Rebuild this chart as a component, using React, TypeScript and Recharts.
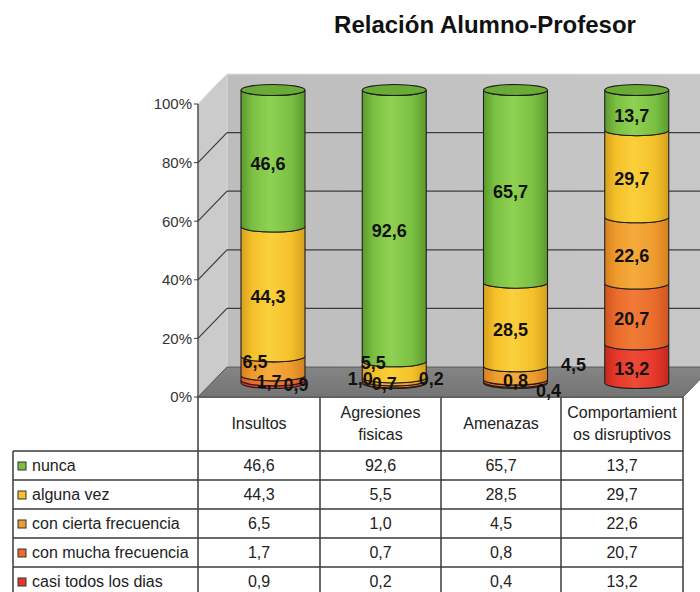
import React from "react";
import { BarChart, Bar, XAxis, YAxis, LabelList, Customized } from "recharts";
import * as RC from "recharts";

// categories and series (percent of answers)
const categories = ["Insultos", "Agresiones fisicas", "Amenazas", "Comportamientos disruptivos"];
const headerLines = [["Insultos"], ["Agresiones", "fisicas"], ["Amenazas"], ["Comportamient", "os disruptivos"]];
const nunca = [46.6, 92.6, 65.7, 13.7];
const algunaVez = [44.3, 5.5, 28.5, 29.7];
const conCiertaFrecuencia = [6.5, 1.0, 4.5, 22.6];
const conMuchaFrecuencia = [1.7, 0.7, 0.8, 20.7];
const casiTodosLosDias = [0.9, 0.2, 0.4, 13.2];
const yTicks = [0, 0.2, 0.4, 0.6, 0.8, 1];

const FONT = "'Liberation Sans', Arial, Helvetica, sans-serif";

// table order (top to bottom); the stack is drawn in reverse
const series = [
  { key: "nunca", name: "nunca", values: nunca, dark: "#5c9a2c", mid: "#7bc043", light: "#8fd152", cap: "#6aab36" },
  { key: "alguna", name: "alguna vez", values: algunaVez, dark: "#d6a01e", mid: "#f4c12a", light: "#fbd03c", cap: "#e6b325" },
  { key: "cierta", name: "con cierta frecuencia", values: conCiertaFrecuencia, dark: "#d58020", mid: "#ef9b2e", light: "#f5ab3c", cap: "#e08c26" },
  { key: "mucha", name: "con mucha frecuencia", values: conMuchaFrecuencia, dark: "#cf5620", mid: "#ea6b2b", light: "#f07b36", cap: "#dc5f25" },
  { key: "casi", name: "casi todos los dias", values: casiTodosLosDias, dark: "#c4281f", mid: "#e6382a", light: "#ee4a35", cap: "#d83025" },
];
const stackOrder = [...series].reverse();

// Excel pushed the labels of the thin slices aside; [dx, dy] per category
const LABEL_NUDGE: Record<string, number[][]> = {
  nunca: [[0, 0], [0, 0], [0, 0], [0, 0]],
  alguna: [[0, 0], [-16, -12], [0, 0], [0, 0]],
  cierta: [[-13, -9], [-29, -5], [63, -13], [0, 0]],
  mucha: [[1, -1], [-5, -3], [5, -5], [0, 0]],
  casi: [[28, -2], [42, -9], [38, 3], [0, 0]],
};

const data = categories.map((c, i) => {
  const row: Record<string, any> = { cat: c };
  series.forEach((s) => (row[s.key] = s.values[i]));
  return row;
});

const W = 700;
const H = 412;
const MARGIN = { top: 104, right: 17, bottom: 15, left: 0 };
const AXIS_W = 198;
const WALL_DX = 29;
const WALL_DY = 30;
const CYL_DX = 14;
const CYL_DY = 14;
const RY = 5.5;

const fmt = (v: number) => v.toFixed(1).replace(".", ",");

function usePlotAreaSafe() {
  const hook = (RC as any).usePlotArea;
  const area = hook ? hook() : null;
  if (area && area.width) return area;
  return { x: MARGIN.left + AXIS_W, y: MARGIN.top, width: W - MARGIN.left - AXIS_W - MARGIN.right, height: H - MARGIN.top - MARGIN.bottom };
}

function Box3D() {
  const a = usePlotAreaSafe();
  const L = a.x, T = a.y, B = a.y + a.height, R = a.x + a.width;
  const yv = (v: number) => T + a.height * (1 - v);
  return (
    <g>
      <polygon points={`${L},${T} ${L + WALL_DX},${T - WALL_DY} ${L + WALL_DX},${B - WALL_DY} ${L},${B}`} fill="#cbcbcb" stroke="#b0b0b0" />
      <rect x={L + WALL_DX} y={T - WALL_DY} width={R - L + 10} height={a.height} fill="url(#wall)" stroke="#e2e2e2" />
      <polygon points={`${L},${B} ${L + WALL_DX},${B - WALL_DY} ${R + WALL_DX},${B - WALL_DY} ${R},${B}`} fill="url(#floor)" stroke="#555" />
      <line x1={L} y1={T} x2={L + WALL_DX} y2={T - WALL_DY} stroke="#e4e4e4" />
      {yTicks.filter((v) => v > 0 && v < 1).map((v) => (
        <g key={v} stroke="#3c3c3c" strokeWidth={1.2}>
          <line x1={L} y1={yv(v)} x2={L + WALL_DX} y2={yv(v) - WALL_DY} />
          <line x1={L + WALL_DX} y1={yv(v) - WALL_DY} x2={R + WALL_DX + 20} y2={yv(v) - WALL_DY} />
        </g>
      ))}
    </g>
  );
}

const makeShape = (s: (typeof series)[number], withCap: boolean) => (p: any) => {
  const x = Number(p.x), y = Number(p.y), w = Number(p.width), h = Number(p.height);
  if (!isFinite(x) || !isFinite(y)) return <g />;
  const rx = w / 2;
  const cx = x + rx + CYL_DX;
  const yT = y - CYL_DY;
  const yB = y + h - CYL_DY;
  const d = `M${cx - rx},${yT} A${rx},${RY} 0 0 0 ${cx + rx},${yT} L${cx + rx},${yB} A${rx},${RY} 0 0 1 ${cx - rx},${yB} Z`;
  return (
    <g>
      <path d={d} fill={`url(#g-${s.key})`} stroke="#1e1e1e" strokeWidth={1.1} />
      {withCap && <ellipse cx={cx} cy={yT} rx={rx} ry={RY} fill={s.cap} stroke="#1e1e1e" strokeWidth={1.1} />}
    </g>
  );
};

const makeLabel = (s: (typeof series)[number]) => (p: any) => {
  const vb = p.viewBox || {};
  const x = Number(p.x ?? vb.x), y = Number(p.y ?? vb.y);
  const w = Number(p.width ?? vb.width), h = Number(p.height ?? vb.height);
  const i = Number(p.index);
  if (!isFinite(x) || !isFinite(y) || !isFinite(i)) return null;
  const [ndx, ndy] = LABEL_NUDGE[s.key][i] || [0, 0];
  const cx = x + w / 2 + CYL_DX - 5 + ndx;
  const cy = y + h / 2 - CYL_DY + RY + ndy;
  return (
    <text x={cx} y={cy} textAnchor="middle" dominantBaseline="central" fontFamily={FONT} fontSize={18} fontWeight="bold" fill="#111">
      {fmt(s.values[i])}
    </text>
  );
};

const COLS = [198, 320, 441, 561, 683];
const LABEL_LEFT = 13;
const HEAD_TOP = 397;
const HEAD_BOTTOM = 451;
const ROW_H = 29;

function Table() {
  const rowTops = series.map((_, r) => HEAD_BOTTOM + r * ROW_H);
  const line = "#3a3a3a";
  return (
    <g fontFamily={FONT} fill="#222">
      <line x1={COLS[0]} y1={HEAD_TOP} x2={COLS[4]} y2={HEAD_TOP} stroke={line} strokeWidth={1.5} />
      {COLS.map((cx) => (
        <line key={cx} x1={cx} y1={HEAD_TOP} x2={cx} y2={600} stroke={line} strokeWidth={1.5} />
      ))}
      <line x1={LABEL_LEFT} y1={HEAD_BOTTOM} x2={LABEL_LEFT} y2={600} stroke={line} strokeWidth={1.5} />
      {rowTops.map((t) => (
        <line key={t} x1={LABEL_LEFT} y1={t} x2={COLS[4]} y2={t} stroke={line} strokeWidth={1.5} />
      ))}
      {headerLines.map((lines, c) => {
        const cx = (COLS[c] + COLS[c + 1]) / 2;
        const mid = (HEAD_TOP + HEAD_BOTTOM) / 2;
        return lines.map((t, k) => (
          <text key={c + "-" + k} x={cx} y={mid + (k - (lines.length - 1) / 2) * 22 + 5} textAnchor="middle" fontSize={16}>
            {t}
          </text>
        ));
      })}
      {series.map((s, r) => {
        const cy = rowTops[r] + ROW_H / 2 + 5.5;
        return (
          <g key={s.key}>
            <rect x={18} y={rowTops[r] + 11} width={8} height={8} fill={s.mid} stroke="#333" strokeWidth={1} />
            <text x={32} y={cy} fontSize={16}>{s.name}</text>
            {s.values.map((v, c) => (
              <text key={c} x={(COLS[c] + COLS[c + 1]) / 2} y={cy} textAnchor="middle" fontSize={16}>
                {fmt(v)}
              </text>
            ))}
          </g>
        );
      })}
    </g>
  );
}

export default function App() {
  const yFmt = (v: number) => `${Math.round(v * 100)}%`;
  return (
    <div style={{ position: "absolute", left: 0, top: 0, width: 700, height: 592, overflow: "hidden", background: "#fff" }}>
      <svg width={700} height={592} style={{ position: "absolute", left: 0, top: 0 }}>
        <defs>
          {series.map((s) => (
            <linearGradient key={s.key} id={`g-${s.key}`} x1="0" y1="0" x2="1" y2="0">
              <stop offset="0%" stopColor={s.dark} />
              <stop offset="18%" stopColor={s.mid} />
              <stop offset="45%" stopColor={s.light} />
              <stop offset="78%" stopColor={s.mid} />
              <stop offset="100%" stopColor={s.dark} />
            </linearGradient>
          ))}
          <linearGradient id="wall" x1="0" y1="0" x2="1" y2="0">
            <stop offset="0%" stopColor="#bdbdbd" />
            <stop offset="100%" stopColor="#c8c8c8" />
          </linearGradient>
          <linearGradient id="floor" x1="0" y1="0" x2="0" y2="1">
            <stop offset="0%" stopColor="#858585" />
            <stop offset="100%" stopColor="#747474" />
          </linearGradient>
        </defs>
        <text x={485} y={33} textAnchor="middle" fontFamily={FONT} fontSize={24} fontWeight="bold" fill="#111">
          Relación Alumno-Profesor
        </text>
        <Table />
      </svg>
      <div style={{ position: "absolute", left: 0, top: 0 }}>
        <BarChart width={W} height={H} data={data} margin={MARGIN} stackOffset="expand" barSize={64}>
          <Customized component={<Box3D />} />
          <XAxis dataKey="cat" hide />
          <YAxis
            type="number"
            domain={[0, 1]}
            ticks={yTicks}
            interval={0}
            width={AXIS_W}
            tickFormatter={yFmt}
            tickSize={4}
            tickMargin={2}
            axisLine={{ stroke: "#3c3c3c", strokeWidth: 1.2 }}
            tickLine={{ stroke: "#3c3c3c" }}
            tick={{ fill: "#333", fontSize: 15, fontFamily: FONT }}
          />
          {stackOrder.map((s) => (
            <Bar key={s.key} dataKey={s.key} stackId="s" isAnimationActive={false} shape={makeShape(s, s.key === "nunca")} />
          ))}
        </BarChart>
      </div>
      <div style={{ position: "absolute", left: 0, top: 0 }}>
        <BarChart width={W} height={H} data={data} margin={MARGIN} stackOffset="expand" barSize={64}>
          <XAxis dataKey="cat" hide />
          <YAxis type="number" domain={[0, 1]} width={AXIS_W} tick={false} axisLine={false} tickLine={false} />
          {stackOrder.map((s) => (
            <Bar key={s.key} dataKey={s.key} stackId="s" isAnimationActive={false} fill="transparent" shape={() => <g />}>
              <LabelList dataKey={s.key} content={makeLabel(s)} />
            </Bar>
          ))}
        </BarChart>
      </div>
    </div>
  );
}
